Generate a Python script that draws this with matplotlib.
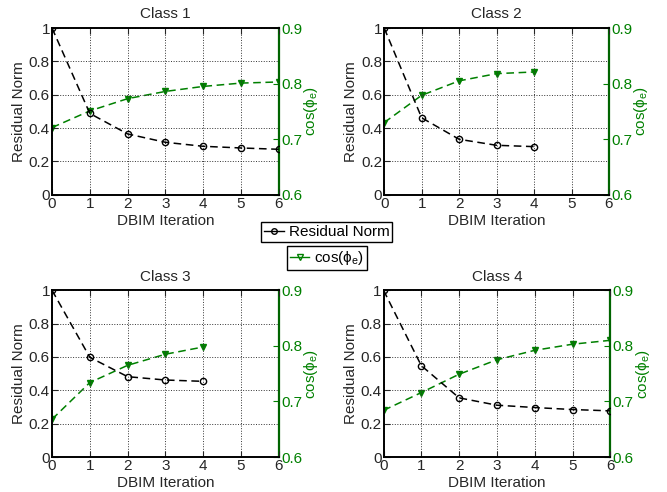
import matplotlib.pyplot as plt
from matplotlib.lines import Line2D

plt.rcParams['font.family'] = ['Liberation Sans', 'DejaVu Sans']
plt.rcParams['mathtext.fontset'] = 'custom'
plt.rcParams['mathtext.rm'] = 'Liberation Sans'
plt.rcParams['mathtext.it'] = 'Liberation Sans'
plt.rcParams['mathtext.default'] = 'regular'

# residual norm and cos(phi_e) per DBIM iteration, one list per class
titles = ["Class 1", "Class 2", "Class 3", "Class 4"]
iterations = [
    [0, 1, 2, 3, 4, 5, 6],
    [0, 1, 2, 3, 4],
    [0, 1, 2, 3, 4],
    [0, 1, 2, 3, 4, 5, 6],
]
residual = [
    [1.0, 0.488, 0.365, 0.315, 0.291, 0.281, 0.273],
    [1.0, 0.462, 0.333, 0.297, 0.289],
    [1.0, 0.598, 0.482, 0.462, 0.454],
    [1.0, 0.548, 0.355, 0.311, 0.297, 0.285, 0.277],
]
cos_phi = [
    [0.721, 0.751, 0.773, 0.786, 0.795, 0.801, 0.803],
    [0.730, 0.779, 0.805, 0.818, 0.821],
    [0.668, 0.734, 0.765, 0.785, 0.798],
    [0.684, 0.716, 0.749, 0.775, 0.792, 0.803, 0.810],
]

green = '#008000'
dark = '#262626'
fs = 11

fig = plt.figure(figsize=(6.67, 4.92), dpi=100)
positions = [
    [0.078, 0.604, 0.340, 0.339],
    [0.576, 0.604, 0.337, 0.339],
    [0.078, 0.071, 0.340, 0.339],
    [0.575, 0.071, 0.340, 0.339],
]

for k in range(4):
    ax = fig.add_axes(positions[k])
    ax2 = ax.twinx()
    ax.set_zorder(ax2.get_zorder() + 1)
    ax.patch.set_visible(False)

    ax.plot(iterations[k], residual[k], '--', color='black', lw=1.1,
            marker='o', ms=4.5, mfc='none', mec='black', mew=1.0, dashes=(5, 3))
    ax2.plot(iterations[k], cos_phi[k], '--', color=green, lw=1.1,
             marker='v', ms=5, mfc=green, mec=green, dashes=(5, 3))

    ax.set_xlim(0, 6)
    ax.set_ylim(0, 1)
    ax.set_xticks(range(7))
    ax.set_yticks([0, 0.2, 0.4, 0.6, 0.8, 1])
    ax.set_yticklabels(['0', '0.2', '0.4', '0.6', '0.8', '1'])
    ax2.set_ylim(0.6, 0.9)
    ax2.set_yticks([0.6, 0.7, 0.8, 0.9])
    ax2.set_yticklabels(['0.6', '0.7', '0.8', '0.9'])

    ax.grid(True, linestyle=':', color='#333333', lw=0.7)
    ax.tick_params(direction='in', length=4, width=0.8, labelsize=fs,
                   colors=dark, pad=1.5, top=True)
    ax2.tick_params(direction='in', length=4, width=0.8, labelsize=fs,
                    colors=green, pad=1.5)

    for s in ['left', 'bottom', 'top']:
        ax.spines[s].set_linewidth(1.4)
        ax.spines[s].set_color('black')
    ax.spines['right'].set_visible(False)
    for s in ['left', 'bottom', 'top']:
        ax2.spines[s].set_visible(False)
    ax2.spines['right'].set_color('#006400')
    ax2.spines['right'].set_linewidth(1.6)

    ax.set_title(titles[k], fontsize=fs, color=dark, pad=7)
    ax.set_xlabel('DBIM Iteration', fontsize=fs, color=dark, labelpad=2)
    ax.set_ylabel('Residual Norm', fontsize=fs, color=dark, labelpad=2)
    ax2.set_ylabel(r'cos($\phi_e$)', fontsize=fs, color=green, labelpad=0)

h1 = Line2D([], [], color='black', ls='-', lw=1.0, marker='o', ms=4,
            mfc='none', mec='black')
h2 = Line2D([], [], color=green, ls='-', lw=1.0, marker='v', ms=4.5,
            mfc='none', mec=green)
leg_kw = dict(fontsize=fs, fancybox=False, edgecolor='black', framealpha=1,
              handlelength=1.3, handletextpad=0.3, borderpad=0.2,
              borderaxespad=0)
l1 = fig.legend([h1], ['Residual Norm'], loc='center',
                bbox_to_anchor=(0.49, 0.528), **leg_kw)
l1.get_frame().set_linewidth(1.0)
l2 = fig.legend([h2], [r'cos($\phi_e$)'], loc='center',
                bbox_to_anchor=(0.49, 0.475), **leg_kw)
l2.get_frame().set_linewidth(1.0)

fig.savefig('out.png', dpi=100)
